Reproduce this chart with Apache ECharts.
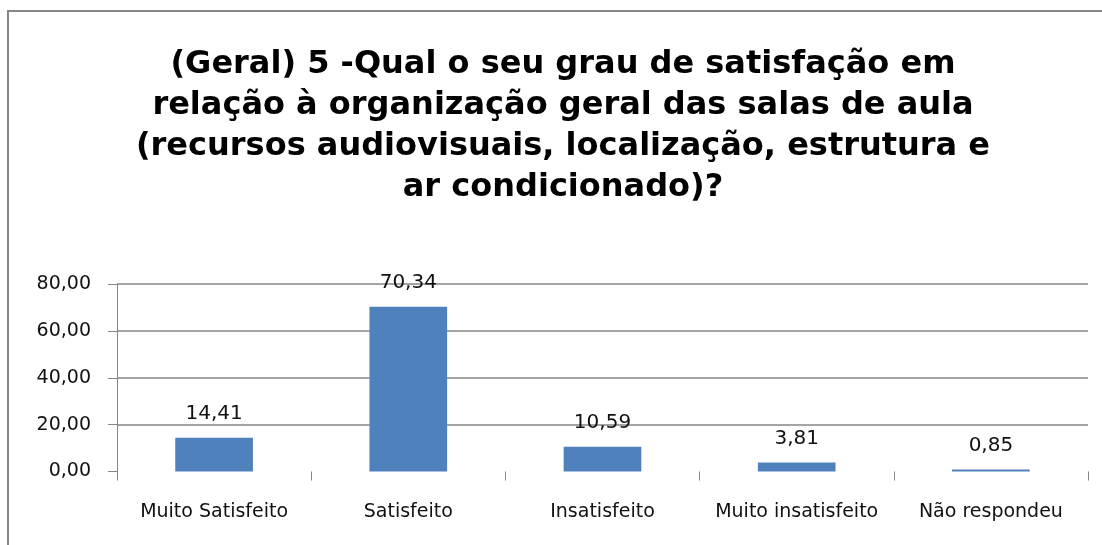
<!DOCTYPE html>
<html>
<head>
    <meta charset="UTF-8">
    <script src="https://cdn.jsdelivr.net/npm/echarts@6/dist/echarts.min.js"></script>
    <style>
        html, body { margin:0; padding:0; background:#fff; }
        #main { width:1102px; height:545px; }
    </style>
</head>
<body>
    <div id="main"></div>
    <script>
        // dados do gráfico
        var categorias = ['Muito Satisfeito', 'Satisfeito', 'Insatisfeito', 'Muito insatisfeito', 'Não respondeu'];
        var valores = [14.41, 70.34, 10.59, 3.81, 0.85];
        var tituloLinhas = [
            '(Geral) 5 -Qual o seu grau de satisfação em',
            'relação à organização geral das salas de aula',
            '(recursos audiovisuais, localização, estrutura e',
            'ar condicionado)?'
        ];

        function virgula(v, casas) {
            return Number(v).toFixed(casas).replace('.', ',');
        }

        var fonte = 'DejaVu Sans';
        var chart = echarts.init(document.getElementById('main'));
        chart.setOption({
            backgroundColor: '#fff',
            animation: false,
            textStyle: { fontFamily: fonte },
            graphic: [{
                type: 'rect',
                shape: { x: 8, y: 11, width: 1200, height: 600 },
                style: { fill: 'none', stroke: '#878787', lineWidth: 2 }
            }],
            title: {
                text: tituloLinhas.join('\n'),
                left: 558,
                top: 39,
                textAlign: 'center',
                textStyle: {
                    fontFamily: fonte,
                    fontWeight: 'bold',
                    fontSize: 32,
                    lineHeight: 41,
                    color: '#000'
                }
            },
            grid: { left: 117, right: 14, top: 284, bottom: 73.5 },
            xAxis: {
                type: 'category',
                data: categorias,
                axisLine: { show: false },
                axisTick: { show: true, interval: 0, length: 9, lineStyle: { color: '#868686' } },
                axisLabel: { interval: 0, margin: 31, color: '#111', fontSize: 19, fontFamily: fonte }
            },
            yAxis: {
                type: 'value',
                min: 0,
                max: 80,
                interval: 20,
                axisLine: { show: true, lineStyle: { color: '#868686' } },
                axisTick: { show: true, length: 9, lineStyle: { color: '#868686' } },
                splitLine: { lineStyle: { color: ['rgba(0,0,0,0)', '#868686', '#868686', '#868686', '#868686'], width: 1.5 } },
                axisLabel: {
                    margin: 26, color: '#111', fontSize: 19, fontFamily: fonte,
                    formatter: function (v) { return virgula(v, 2); }
                }
            },
            series: [{
                type: 'bar',
                data: valores,
                barWidth: '40%',
                itemStyle: { color: '#4F81BD' },
                label: {
                    show: true,
                    position: 'top',
                    distance: 14,
                    color: '#111',
                    fontSize: 20,
                    fontFamily: fonte,
                    formatter: function (p) { return virgula(p.value, 2); }
                }
            }]
        });
    </script>
</body>
</html>
